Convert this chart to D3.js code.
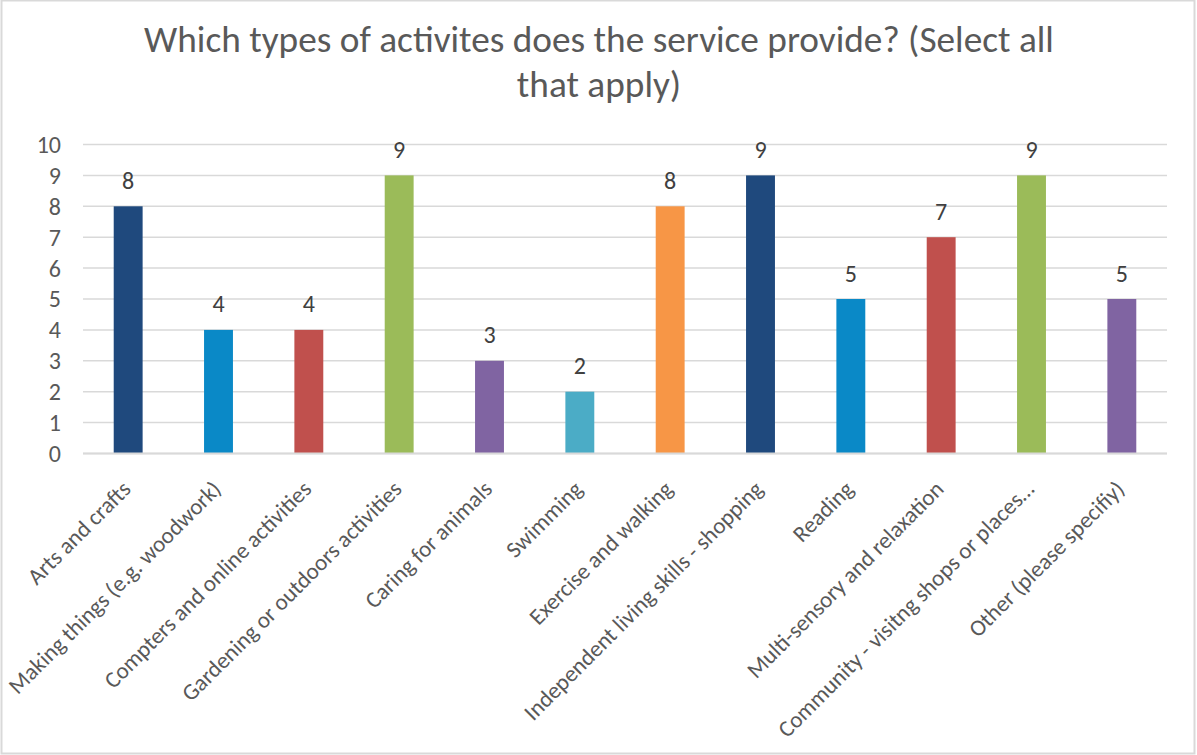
<!DOCTYPE html>
<html>
<head>
<meta charset="utf-8">
<script src="https://cdn.jsdelivr.net/npm/d3@7"></script>
<style>
  html, body { margin: 0; padding: 0; background: #fff; }
  svg { display: block; }
  text { font-family: Calibri, Carlito, "Open Sans", sans-serif; fill: #595959; }
</style>
</head>
<body>
<svg id="chart" width="1197" height="755"></svg>
<script>
// Survey answers: number of services offering each activity type
const categories = [
  "Arts and crafts",
  "Making things (e.g. woodwork)",
  "Compters and online activities",
  "Gardening or outdoors activities",
  "Caring for animals",
  "Swimming",
  "Exercise and walking",
  "Independent living skills - shopping",
  "Reading",
  "Multi-sensory and relaxation",
  "Community - visitng shops or places…",
  "Other (please specifiy)"
];
const counts = [8, 4, 4, 9, 3, 2, 8, 9, 5, 7, 9, 5];
const barColors = [
  "#1F497D", "#0A89C7", "#C0504D", "#9BBB59", "#8064A2", "#4BACC6",
  "#F79646", "#1F497D", "#0A89C7", "#C0504D", "#9BBB59", "#8064A2"
];
const yTicks = [0, 1, 2, 3, 4, 5, 6, 7, 8, 9, 10];
const titleLines = [
  "Which types of activites does the service provide? (Select all",
  "that apply)"
];

const W = 1197, H = 755;
const margin = { top: 144.5, right: 30, bottom: 301.5, left: 83 };
const svg = d3.select("#chart");

// chart border
svg.append("rect")
  .attr("x", 1.5).attr("y", 0.5)
  .attr("width", W - 4).attr("height", H - 2)
  .attr("fill", "#fff").attr("stroke", "#D9D9D9").attr("stroke-width", 2);

const x = d3.scaleBand()
  .domain(categories)
  .range([margin.left, W - margin.right])
  .paddingInner(0.68).paddingOuter(0.34);

const y = d3.scaleLinear()
  .domain([0, 10])
  .range([H - margin.bottom, margin.top]);

// title
svg.append("g").selectAll("text")
  .data(titleLines).join("text")
  .attr("x", 599).attr("y", (d, i) => 52 + i * 45)
  .attr("text-anchor", "middle")
  .style("font-size", "37.3px")
  .text(d => d);

// gridlines
svg.append("g").selectAll("line")
  .data(yTicks).join("line")
  .attr("x1", margin.left).attr("x2", W - margin.right)
  .attr("y1", d => y(d)).attr("y2", d => y(d))
  .attr("stroke", "#D9D9D9").attr("stroke-width", 1.5);

// y axis labels
const yAxis = svg.append("g")
  .attr("transform", `translate(${margin.left - 22},0)`)
  .call(d3.axisLeft(y).tickValues(yTicks).tickSize(0).tickPadding(0));
yAxis.select(".domain").remove();
yAxis.selectAll("text")
  .style("font-size", "24px")
  .attr("fill", "#595959")
  .attr("dy", "0.33em")
  .style("font-family", 'Calibri, Carlito, "Open Sans", sans-serif');

// bars
svg.append("g").selectAll("rect")
  .data(counts).join("rect")
  .attr("x", (d, i) => x(categories[i]))
  .attr("y", d => y(d))
  .attr("width", x.bandwidth())
  .attr("height", d => y(0) - y(d))
  .attr("fill", (d, i) => barColors[i]);

// value labels
svg.append("g").selectAll("text")
  .data(counts).join("text")
  .attr("x", (d, i) => x(categories[i]) + x.bandwidth() / 2)
  .attr("y", d => y(d) - 17.5)
  .attr("text-anchor", "middle")
  .style("font-size", "24px")
  .style("fill", "#404040")
  .text(d => d);

// x axis baseline
svg.append("line")
  .attr("x1", margin.left).attr("x2", W - margin.right)
  .attr("y1", y(0)).attr("y2", y(0))
  .attr("stroke", "#D9D9D9").attr("stroke-width", 2);

// rotated category labels
svg.append("g").selectAll("text")
  .data(categories).join("text")
  .attr("text-anchor", "end")
  .attr("transform", d => `translate(${x(d) + x.bandwidth() / 2 + 4},${y(0) + 37}) rotate(-45)`)
  .style("font-size", "23px")
  .text(d => d);
</script>
</body>
</html>
